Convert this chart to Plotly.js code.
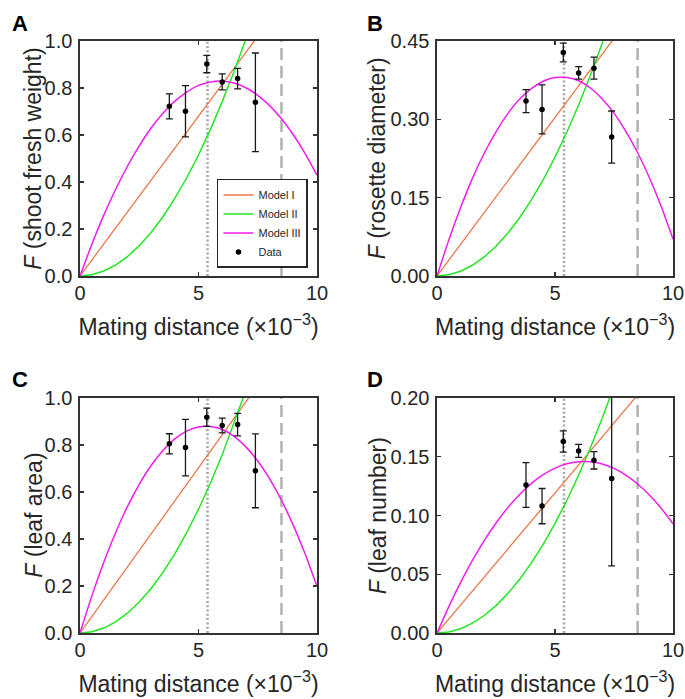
<!DOCTYPE html>
<html>
<head>
<meta charset="utf-8">
<script src="https://cdn.plot.ly/plotly-3.0.1.min.js"></script>
<style>html,body{margin:0;padding:0;background:#fff;}#chart{width:685px;height:699px;}</style>
</head>
<body>
<div id="chart"></div>
<script>
// ---- data ----
const panelLetters = ["A", "B", "C", "D"];
const yTitles = ["shoot fresh weight", "rosette diameter", "leaf area", "leaf number"];
const yRanges = [[0, 1], [0, 0.45], [0, 1], [0, 0.2]];
const yTickVals = [[0, 0.2, 0.4, 0.6, 0.8, 1.0], [0, 0.15, 0.30, 0.45], [0, 0.2, 0.4, 0.6, 0.8, 1.0], [0, 0.05, 0.10, 0.15, 0.20]];
const yTickFormats = [".1f", ".2f", ".1f", ".2f"];
const xTickVals = [0, 5, 10];
const refX = [5.38, 8.5]; // dotted, dashed

const modelX = [0, 0.5, 1, 1.5, 2, 2.5, 3, 3.5, 4, 4.5, 5, 5.5, 6, 6.5, 7, 7.5, 8, 8.5, 9, 9.5, 10];
const lineX = [0, 10];

const model1A = [0, 1.36];
const model1B = [0, 0.607];
const model1C = [0, 1.406];
const model1D = [0, 0.2384];

const model2A = [0, 0.005, 0.021, 0.046, 0.082, 0.129, 0.185, 0.252, 0.330, 0.417, 0.515, 0.623, 0.742, 0.870, 1.009, 1.159];
const model2B = [0, 0.0023, 0.0091, 0.0205, 0.0364, 0.0569, 0.0819, 0.1115, 0.1456, 0.1843, 0.2275, 0.2753, 0.3276, 0.3845, 0.4459, 0.5119];
const model2C = [0, 0.0053, 0.0211, 0.0474, 0.0843, 0.1317, 0.1896, 0.2581, 0.3371, 0.4267, 0.5268, 0.6374, 0.7585, 0.8902, 1.0324];
const model2D = [0, 0.0009, 0.0037, 0.0084, 0.0149, 0.0233, 0.0336, 0.0457, 0.0597, 0.0755, 0.0933, 0.1128, 0.1343, 0.1576, 0.1828, 0.2098];

const model3A = [0, 0.135, 0.258, 0.368, 0.467, 0.554, 0.630, 0.693, 0.744, 0.783, 0.811, 0.826, 0.830, 0.821, 0.801, 0.769, 0.725, 0.669, 0.601, 0.521, 0.429];
const model3B = [0, 0.069, 0.131, 0.187, 0.235, 0.276, 0.311, 0.339, 0.359, 0.373, 0.380, 0.380, 0.374, 0.360, 0.339, 0.312, 0.277, 0.236, 0.188, 0.133, 0.071];
const model3C = [0, 0.158, 0.300, 0.427, 0.538, 0.633, 0.713, 0.777, 0.826, 0.859, 0.877, 0.879, 0.866, 0.837, 0.792, 0.732, 0.656, 0.565, 0.458, 0.336, 0.198];
const model3D = [0, 0.0225, 0.0431, 0.0618, 0.0786, 0.0936, 0.1067, 0.1179, 0.1273, 0.1347, 0.1403, 0.1440, 0.1458, 0.1458, 0.1439, 0.1401, 0.1344, 0.1268, 0.1174, 0.1061, 0.0929];

const dataX = [3.77, 4.45, 5.35, 6.0, 6.65, 7.4];
const dataA = [0.722, 0.701, 0.902, 0.826, 0.840, 0.739];
const errA = [0.053, 0.109, 0.037, 0.034, 0.044, 0.210];
const dataB = [0.335, 0.319, 0.428, 0.389, 0.398, 0.266];
const errB = [0.022, 0.047, 0.018, 0.012, 0.021, 0.050];
const dataC = [0.805, 0.789, 0.918, 0.883, 0.887, 0.690];
const errC = [0.043, 0.120, 0.039, 0.031, 0.048, 0.157];
const dataD = [0.126, 0.108, 0.163, 0.155, 0.147, 0.1315];
const errD = [0.019, 0.015, 0.009, 0.0055, 0.0074, 0.0744];

const model1 = [model1A, model1B, model1C, model1D];
const model2 = [model2A, model2B, model2C, model2D];
const model3 = [model3A, model3B, model3C, model3D];
const dataY = [dataA, dataB, dataC, dataD];
const dataErr = [errA, errB, errC, errD];

// ---- styling / layout ----
const FONT = "Liberation Sans, Arial, Helvetica, sans-serif";
const TXT = "#262626";
const colors = {m1: "#e8784a", m2: "#22e622", m3: "#f01cf0"};
const xDomains = [[0.1168, 0.4628], [0.638, 0.9825], [0.1168, 0.4628], [0.638, 0.9825]];
const yDomains = [[0.6052, 0.9413], [0.6052, 0.9413], [0.0944, 0.4306], [0.0944, 0.4306]];
const letterPos = [[0.029, 0.966], [0.548, 0.966], [0.029, 0.4565], [0.548, 0.4565]];
const yTitleX = [0.0485, 0.5515, 0.0485, 0.5515];

const traces = [];
const layout = {
  width: 685, height: 699,
  margin: {l: 0, r: 0, t: 0, b: 0},
  paper_bgcolor: "#fff", plot_bgcolor: "#fff",
  font: {family: FONT, color: TXT, size: 18},
  showlegend: true,
  legend: {
    x: 0.4496, y: 0.6166, xanchor: "right", yanchor: "bottom",
    bordercolor: "#262626", borderwidth: 1.5, bgcolor: "#fff",
    font: {family: FONT, size: 11, color: TXT},
    itemwidth: 30, tracegroupgap: 0,
  },
  shapes: [], annotations: []
};

for (let i = 0; i < 4; i++) {
  const sfx = i === 0 ? "" : String(i + 1);
  const xa = "x" + sfx, ya = "y" + sfx;
  const first = i === 0;
  traces.push({x: lineX, y: model1[i], xaxis: xa, yaxis: ya, mode: "lines", name: "Model I",
    line: {color: colors.m1, width: 1.3}, showlegend: first, hoverinfo: "skip"});
  traces.push({x: modelX.slice(0, model2[i].length), y: model2[i], xaxis: xa, yaxis: ya, mode: "lines", name: "Model II",
    line: {color: colors.m2, width: 1.5}, showlegend: first, hoverinfo: "skip"});
  traces.push({x: modelX, y: model3[i], xaxis: xa, yaxis: ya, mode: "lines", name: "Model III",
    line: {color: colors.m3, width: 1.5, shape: "spline", smoothing: 0.6}, showlegend: first, hoverinfo: "skip"});
  traces.push({x: dataX, y: dataY[i], xaxis: xa, yaxis: ya, mode: "markers", name: "Data",
    marker: {color: "#000", size: 5.5, symbol: "circle"},
    error_y: {type: "data", array: dataErr[i], visible: true, color: "#1a1a1a", thickness: 1.3, width: 3.5},
    showlegend: first, hoverinfo: "skip", cliponaxis: true});

  const axCommon = {
    showline: true, linecolor: "#333", linewidth: 1.6, mirror: "ticks",
    ticks: "inside", ticklen: 4, tickwidth: 1.2, tickcolor: "#333",
    showgrid: false, zeroline: false, fixedrange: true,
    tickfont: {family: FONT, size: 20, color: TXT}, automargin: false
  };
  layout["xaxis" + sfx] = Object.assign({}, axCommon, {
    domain: xDomains[i], anchor: ya, range: [0, 10], tickvals: xTickVals, ticktext: xTickVals.map(String),
    ticklabelstandoff: -2,
    title: {text: "Mating distance (×10<sup>−3</sup>)", font: {family: FONT, size: 23, color: TXT}, standoff: 16}
  });
  layout["yaxis" + sfx] = Object.assign({}, axCommon, {
    domain: yDomains[i], anchor: xa, range: yRanges[i], tickvals: yTickVals[i], tickformat: yTickFormats[i],
    ticklabelstandoff: 2
  });

  layout.shapes.push({type: "line", xref: xa, yref: ya + " domain", x0: refX[0], x1: refX[0], y0: 0, y1: 1,
    line: {color: "#a8a8a8", width: 2.6, dash: "2px,2.3px"}, layer: "below"});
  layout.shapes.push({type: "line", xref: xa, yref: ya + " domain", x0: refX[1], x1: refX[1], y0: 0, y1: 1,
    line: {color: "#b4b4b4", width: 2.6, dash: "12px,6px"}, layer: "below"});

  layout.annotations.push({text: "<i>F</i> (" + yTitles[i] + ")", xref: "paper", yref: "paper",
    x: yTitleX[i], y: (yDomains[i][0] + yDomains[i][1]) / 2, xanchor: "center", yanchor: "middle",
    textangle: -90, showarrow: false, font: {family: FONT, size: 23, color: TXT}});

  layout.annotations.push({text: "<b>" + panelLetters[i] + "</b>", xref: "paper", yref: "paper",
    x: letterPos[i][0], y: letterPos[i][1], xanchor: "center", yanchor: "middle", showarrow: false,
    font: {family: FONT, size: 22, color: "#000"}});
}

Plotly.newPlot("chart", traces, layout, {staticPlot: true, displayModeBar: false});
</script>
</body>
</html>
